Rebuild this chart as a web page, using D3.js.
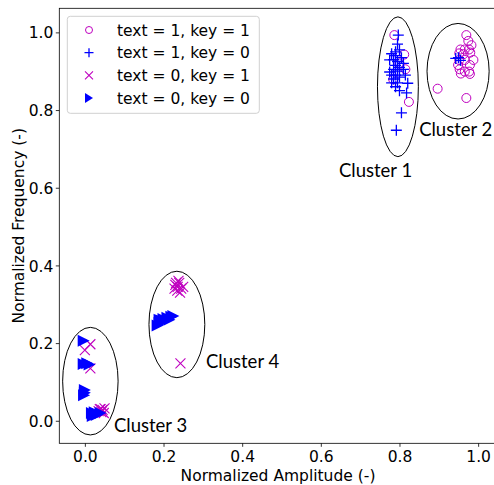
<!DOCTYPE html>
<html>
<head>
<meta charset="utf-8">
<script src="https://cdn.jsdelivr.net/npm/d3@7"></script>
<style>
  body { margin: 0; background: #fff; }
  text { font-family: "DejaVu Sans", sans-serif; }
</style>
</head>
<body>
<div id="chart"></div>
<script>
const width = 494;
const height = 485;

// text = 1, key = 1 (magenta circles)
const circlePoints = [
  [0.787, 0.993], [0.812, 0.943], [0.815, 0.905], [0.784, 0.879], [0.824, 0.821], [0.80, 0.92],
  [0.970, 0.993], [0.975, 0.978], [0.983, 0.967], [0.955, 0.956], [0.966, 0.956], [0.977, 0.956],
  [0.952, 0.946], [0.963, 0.944], [0.980, 0.948], [0.988, 0.929], [0.952, 0.929], [0.966, 0.929],
  [0.949, 0.916], [0.979, 0.916], [0.953, 0.905], [0.966, 0.899], [0.977, 0.899], [0.956, 0.894],
  [0.979, 0.893], [0.897, 0.855], [0.970, 0.831]
];
// text = 1, key = 0 (blue plus)
const plusPoints = [
  [0.797, 0.993], [0.795, 0.97], [0.80, 0.955], [0.78, 0.945], [0.79, 0.94], [0.805, 0.935],
  [0.785, 0.93], [0.795, 0.925], [0.775, 0.929], [0.81, 0.92], [0.79, 0.915], [0.80, 0.91],
  [0.785, 0.905], [0.775, 0.898], [0.795, 0.90], [0.81, 0.905], [0.78, 0.89], [0.79, 0.89],
  [0.80, 0.885], [0.785, 0.88], [0.815, 0.89], [0.78, 0.87], [0.795, 0.87], [0.821, 0.869],
  [0.79, 0.86], [0.80, 0.85], [0.818, 0.844], [0.805, 0.793], [0.792, 0.748], [0.79, 0.95],
  [0.943, 0.933], [0.95, 0.935], [0.955, 0.928]
];
// text = 0, key = 1 (magenta x)
const crossPoints = [
  [0.014, 0.197], [0.0, 0.182], [0.014, 0.135], [0.035, 0.025], [0.04, 0.03], [0.045, 0.028],
  [0.05, 0.032], [0.042, 0.022], [0.048, 0.02], [0.038, 0.03],
  [0.236, 0.345], [0.23, 0.35], [0.24, 0.355], [0.245, 0.34], [0.235, 0.335], [0.25, 0.345],
  [0.228, 0.34], [0.242, 0.33], [0.238, 0.36], [0.232, 0.355], [0.243, 0.148]
];
// text = 0, key = 0 (blue right triangles)
const trianglePoints = [
  [-0.003, 0.206], [-0.003, 0.146], [0.006, 0.148], [0.012, 0.145], [0.0, 0.079], [-0.002, 0.066],
  [0.0, 0.072], [0.018, 0.02], [0.025, 0.022], [0.032, 0.018], [0.02, 0.012], [0.03, 0.015],
  [0.04, 0.02],
  [0.185, 0.245], [0.19, 0.252], [0.195, 0.258], [0.20, 0.262], [0.21, 0.265], [0.22, 0.268],
  [0.225, 0.27], [0.19, 0.26], [0.20, 0.255], [0.215, 0.26]
];

// cluster ellipses: center x, center y, width, height, label anchor (data units)
const clusters = [
  { name: "Cluster 1", cx: 0.796, cy: 0.860, w: 0.104, h: 0.360, lx: 0.646, ly: 0.627 },
  { name: "Cluster 2", cx: 0.949, cy: 0.900, w: 0.158, h: 0.246, lx: 0.850, ly: 0.732 },
  { name: "Cluster 3", cx: 0.014, cy: 0.102, w: 0.141, h: 0.277, lx: 0.074, ly: -0.029 },
  { name: "Cluster 4", cx: 0.234, cy: 0.248, w: 0.142, h: 0.274, lx: 0.308, ly: 0.136 }
];

const xTicks = [0.0, 0.2, 0.4, 0.6, 0.8, 1.0];
const yTicks = [0.0, 0.2, 0.4, 0.6, 0.8, 1.0];
const legendLabels = ["text = 1, key = 1", "text = 1, key = 0", "text = 0, key = 1", "text = 0, key = 0"];

const margin = { left: 59.3, top: 8.3, right: 497.8, bottom: 443.3 };
const magenta = "#bf00bf";
const blue = "#0000ff";
const fontSize = "15.5px";

const x = d3.scaleLinear().domain([-0.065, 1.05]).range([margin.left, margin.right]);
const y = d3.scaleLinear().domain([-0.058, 1.062]).range([margin.bottom, margin.top]);

const svg = d3.select("#chart").append("svg")
  .attr("width", width)
  .attr("height", height);

// marker drawers
const drawCircle = (g, r) => g.append("circle").attr("r", r)
  .attr("fill", "none").attr("stroke", magenta).attr("stroke-width", 1);
const drawPlus = (g, s) => g.append("path").attr("d", `M${-s},0H${s}M0,${-s}V${s}`)
  .attr("fill", "none").attr("stroke", blue).attr("stroke-width", 1.3);
const drawCross = (g, s) => g.append("path").attr("d", `M${-s},${-s}L${s},${s}M${-s},${s}L${s},${-s}`)
  .attr("fill", "none").attr("stroke", magenta).attr("stroke-width", 1.1);
const drawTriangle = (g, w, h) => g.append("path").attr("d", `M${w / 2},0L${-w / 2},${-h / 2}L${-w / 2},${h / 2}Z`)
  .attr("fill", blue);

const plot = svg.append("g");

// order as drawn: circles, plus, x, triangles
const series = [
  { data: circlePoints, draw: (g) => drawCircle(g, 4.5), legend: (g) => drawCircle(g, 3.5) },
  { data: plusPoints, draw: (g) => drawPlus(g, 5.5), legend: (g) => drawPlus(g, 4.5) },
  { data: crossPoints, draw: (g) => drawCross(g, 5), legend: (g) => drawCross(g, 4) },
  { data: trianglePoints, draw: (g) => drawTriangle(g, 12, 12), legend: (g) => drawTriangle(g, 8, 10) }
];

series.forEach((s) => {
  plot.append("g").selectAll("g")
    .data(s.data)
    .join("g")
    .attr("transform", (d) => `translate(${x(d[0])},${y(d[1])})`)
    .each(function () { s.draw(d3.select(this)); });
});

// ellipses
plot.selectAll("ellipse")
  .data(clusters)
  .join("ellipse")
  .attr("cx", (d) => x(d.cx))
  .attr("cy", (d) => y(d.cy))
  .attr("rx", (d) => x(d.cx + d.w / 2) - x(d.cx))
  .attr("ry", (d) => y(d.cy) - y(d.cy + d.h / 2))
  .attr("fill", "none")
  .attr("stroke", "#000")
  .attr("stroke-width", 1);

plot.selectAll("text.cluster")
  .data(clusters)
  .join("text")
  .attr("class", "cluster")
  .attr("x", (d) => x(d.lx))
  .attr("y", (d) => y(d.ly))
  .style("font-family", "Lato, 'Open Sans', sans-serif")
  .style("font-size", "18.5px")
  .text((d) => d.name);

// axes
const xAxis = svg.append("g")
  .attr("transform", `translate(0,${margin.bottom})`)
  .call(d3.axisBottom(x).tickValues(xTicks).tickFormat(d3.format(".1f")).tickSizeOuter(0).tickSize(3.5));
const yAxis = svg.append("g")
  .attr("transform", `translate(${margin.left},0)`)
  .call(d3.axisLeft(y).tickValues(yTicks).tickFormat(d3.format(".1f")).tickSizeOuter(0).tickSize(3.5));

[xAxis, yAxis].forEach((a) => {
  a.select(".domain").remove();
  a.selectAll("text").style("font-size", fontSize).style("font-family", "DejaVu Sans").attr("fill", "#000");
  a.selectAll("line").attr("stroke", "#000").attr("stroke-width", 0.8);
});
xAxis.selectAll("text").attr("dy", "0.76em");
yAxis.selectAll("text").attr("x", -6).attr("dy", "0.36em");

// spines
svg.append("rect")
  .attr("x", margin.left)
  .attr("y", margin.top)
  .attr("width", margin.right - margin.left)
  .attr("height", margin.bottom - margin.top)
  .attr("fill", "none")
  .attr("stroke", "#000")
  .attr("stroke-width", 0.8);

svg.append("text")
  .attr("x", 278)
  .attr("y", 480.5)
  .attr("text-anchor", "middle")
  .style("font-size", fontSize)
  .text("Normalized Amplitude (-)");

svg.append("text")
  .attr("transform", `translate(23.5,${(margin.top + margin.bottom) / 2}) rotate(-90)`)
  .attr("text-anchor", "middle")
  .style("font-size", fontSize)
  .text("Normalized Frequency (-)");

// legend
const legend = svg.append("g");
legend.append("rect")
  .attr("x", 67.3).attr("y", 16.3)
  .attr("width", 192).attr("height", 97)
  .attr("rx", 3)
  .attr("fill", "#fff").attr("fill-opacity", 0.8)
  .attr("stroke", "#d0d0d0").attr("stroke-width", 1);

const rows = legend.selectAll("g.row")
  .data(legendLabels)
  .join("g")
  .attr("class", "row")
  .attr("transform", (d, i) => `translate(0,${30 + i * 22.7})`);

rows.each(function (d, i) {
  const row = d3.select(this);
  series[i].legend(row.append("g").attr("transform", "translate(89,0)"));
  row.append("text")
    .attr("x", 117)
    .attr("dy", "0.36em")
    .style("font-size", fontSize)
    .text(d);
});
</script>
</body>
</html>
